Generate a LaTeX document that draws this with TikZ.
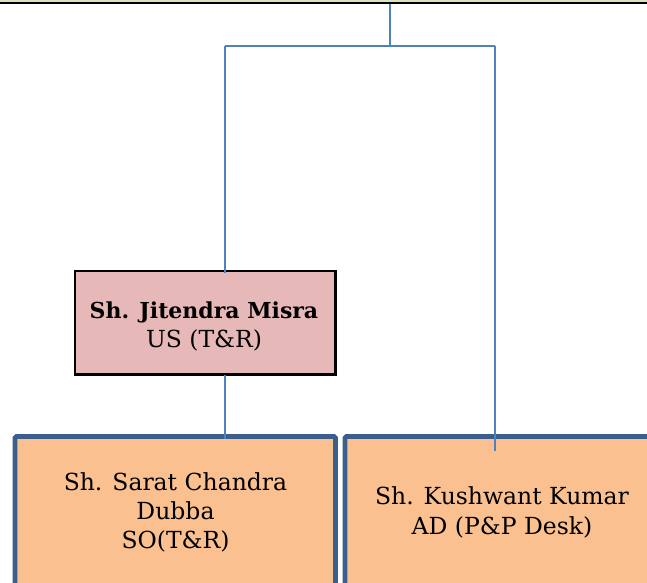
\documentclass[tikz,border=0pt]{standalone}
\usepackage{fontspec}
\setmainfont{DejaVu Serif}
\definecolor{conncol}{HTML}{4F81BD}
\definecolor{pinkfill}{HTML}{E6B9B8}
\definecolor{tanfill}{HTML}{FAC090}
\definecolor{boxedge}{HTML}{3B5E8C}
\definecolor{topgreen}{HTML}{D7E4BD}
\tikzset{
  conn/.style={draw=conncol, line width=2.1pt},
  pinkbox/.style={draw=black, line width=2.2pt, fill=pinkfill, inner sep=0pt, outer sep=0pt},
  tanbox/.style={draw=boxedge, line width=4.8pt, fill=tanfill, inner sep=0pt, outer sep=0pt, rounded corners=1.5pt},
  txt/.style={anchor=base, inner sep=0pt, font=\fontsize{23.5}{29}\selectfont},
  btxt/.style={txt, font=\fontsize{22}{29}\selectfont\bfseries}
}
\begin{document}
\begin{tikzpicture}[x=1pt, y=-1pt]
\useasboundingbox (0,0) rectangle (647,582);
\clip (0,0) rectangle (647,582);
\fill[white] (0,0) rectangle (647,582);
% top rule
\fill[topgreen] (0,0) rectangle (647,2.4);
\fill[black] (0,2.4) rectangle (647,4.4);
% boxes
\node[pinkbox, minimum width=260.5pt, minimum height=103.5pt] (jm) at (205.25,322.75) {};
\node[tanbox, minimum width=320.5pt, minimum height=183.5pt] (scbox) at (175.25,528.25) {};
\node[tanbox, minimum width=355pt, minimum height=183.5pt] (kkbox) at (522.5,528.25) {};
% texts
\node[btxt] (jm1) at (204,318.5) {Sh. Jitendra Misra};
\node[txt] (jm2) at (204,347.5) {US (T\&R)};
\node[txt] (sc1) at (175.5,490) {Sh. Sarat Chandra};
\node[txt] (sc2) at (175.5,519) {Dubba};
\node[txt] (sc3) at (175.5,548) {SO(T\&R)};
\node[txt] (kk1) at (502,504.5) {Sh. Kushwant Kumar};
\node[txt] (kk2) at (502,534) {AD (P\&P Desk)};
% connectors
\coordinate (top) at (390,4);
\coordinate (mid) at (390,45.7);
\coordinate (lb) at (225,45.7);
\coordinate (rb) at (494.7,45.7);
\coordinate (rend) at (494.7,450.5);
\draw[conn] (top) -- (mid);
\draw[conn] (lb) -- (rb);
\draw[conn] (lb) -- ([yshift=-2pt]lb |- jm.north);
\draw[conn] (jm.south -| lb) -- ([yshift=-2pt]lb |- scbox.north);
\draw[conn] (rb) -- (rend);
\end{tikzpicture}
\end{document}
